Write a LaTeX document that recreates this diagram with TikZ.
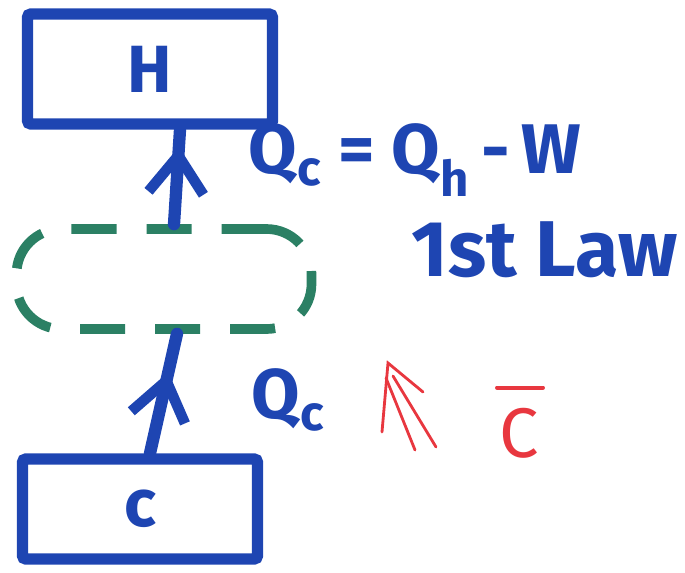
\documentclass[tikz,border=0pt]{standalone}
\usepackage{fontspec}
\setsansfont{Fira Sans}
\usepackage{tikz}
\usetikzlibrary{positioning,arrows.meta,decorations.markings}
\definecolor{penblue}{HTML}{1E45B2}
\definecolor{pengreen}{HTML}{2B8064}
\definecolor{penred}{HTML}{E8373F}
\tikzset{
    reservoir/.style={draw=penblue,line width=6.5pt,rounded corners=2pt,font=\sffamily\bfseries\fontsize{38}{40}\selectfont,text=penblue},
    engine/.style={draw=pengreen,line width=5.5pt,dash pattern=on 9mm off 6mm,rounded corners=9mm},
    flow/.style={draw=penblue,line width=7pt,line cap=round,postaction={decorate}},
    barb at/.style={decoration={markings,mark=at position #1 with {\arrow[penblue,line width=6pt]{Straight Barb[length=7.5mm,width=11mm]}}}},
    label/.style={text=penblue,font=\sffamily\bfseries\fontsize{40}{44}\selectfont,inner sep=0pt},
    redpen/.style={draw=penred,line width=1.6pt,line cap=round},
}
\begin{document}
\begin{tikzpicture}[x=0.2mm,y=-0.2mm]
    \useasboundingbox (0,0) rectangle (685,572);
    \node[reservoir,minimum width=49mm,minimum height=22mm] (hot) at (150,69) {H};
    \node[reservoir,minimum width=47mm,minimum height=20mm] (cold) at (140,509) {c};
    \node[engine,minimum width=59mm,minimum height=20mm] (eng) at (164,279) {};

    % heat flows
    \draw[flow,barb at=0.82] ([xshift=2mm]eng.north) -- ([xshift=6mm]hot.south);
    \draw[flow,barb at=0.68] ([xshift=2mm]cold.north) -- ([xshift=2.6mm]eng.south);

    \node[label] (balance) at (415,160) {Q\textsubscript{c} = Q\textsubscript{h}\,-\,W};
    \node[label,font=\sffamily\bfseries\fontsize{45}{48}\selectfont,below right=5mm and -34mm of balance] (law) {1st Law};
    \node[label] (qc) at (288,400) {Q\textsubscript{c}};

    % red note
    \coordinate (tip) at (388,363);
    \draw[redpen] (382,432) -- (tip) -- (423,392);
    \draw[redpen] (386,378) -- (415,450);
    \draw[redpen] (393,376) -- (436,447);
    \node[text=penred,font=\sffamily\fontsize{40}{44}\selectfont,inner sep=0pt] (cbar) at (519,433) {C};
    \draw[redpen,line width=2.2pt] ([shift={(-2,-20)}]cbar.north west) -- ([shift={(4,-20)}]cbar.north east);
\end{tikzpicture}
\end{document}
